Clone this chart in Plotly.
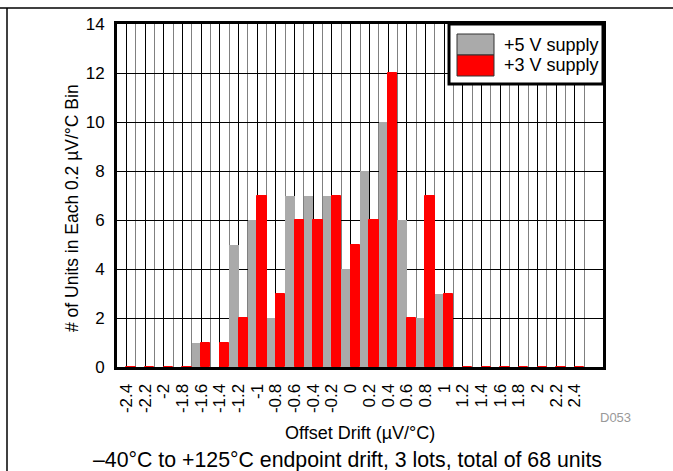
import plotly.graph_objects as go

# ---- data ----
bins = [-2.4, -2.2, -2.0, -1.8, -1.6, -1.4, -1.2, -1.0, -0.8, -0.6, -0.4, -0.2, 0.0,
        0.2, 0.4, 0.6, 0.8, 1.0, 1.2, 1.4, 1.6, 1.8, 2.0, 2.2, 2.4]
tick_labels = ["-2.4", "-2.2", "-2", "-1.8", "-1.6", "-1.4", "-1.2", "-1", "-0.8", "-0.6",
               "-0.4", "-0.2", "0", "0.2", "0.4", "0.6", "0.8", "1", "1.2", "1.4",
               "1.6", "1.8", "2", "2.2", "2.4"]
supply_5v = [0, 0, 0, 0, 1, 0, 5, 6, 2, 7, 7, 7, 4, 8, 10, 6, 2, 3, 0, 0, 0, 0, 0, 0, 0]
supply_3v = [0, 0, 0, 0, 1, 1, 2, 7, 3, 6, 6, 7, 5, 6, 12, 2, 7, 3, 0, 0, 0, 0, 0, 0, 0]
series_names = ["+5 V supply", "+3 V supply"]
y_ticks = [0, 2, 4, 6, 8, 10, 12, 14]

GRAY = "#AAAAAA"
RED = "#FF0000"
FONT = "Liberation Sans, Arial, sans-serif"

W, H = 673, 471
L, R, T, B = 117, 70, 24, 104
PW, PH = W - L - R, H - T - B


def px(x):
    return (x - L) / PW


def py(y):
    return (H - B - y) / PH


fig = go.Figure()
fig.add_trace(go.Bar(x=bins, y=supply_5v, name=series_names[0],
                     marker=dict(color=GRAY, line=dict(width=0)), showlegend=False))
fig.add_trace(go.Bar(x=bins, y=supply_3v, name=series_names[1],
                     marker=dict(color=RED, line=dict(color=RED, width=1)), showlegend=False))

fig.update_layout(
    width=W, height=H,
    margin=dict(l=L, r=R, t=T, b=B, pad=0),
    paper_bgcolor="white", plot_bgcolor="white",
    barmode="group", bargap=0, bargroupgap=0,
    font=dict(family=FONT, size=17, color="black"),
)

fig.update_xaxes(
    range=[-2.5, 2.7], tickmode="array", tickvals=bins, ticktext=tick_labels,
    tickangle=-90, tickfont=dict(size=17),
    showgrid=True, gridcolor="black", gridwidth=1,
    minor=dict(dtick=0.2, tick0=-2.5, showgrid=True, gridcolor="#808080", gridwidth=1),
    showline=True, linecolor="black", linewidth=3, mirror=True,
    ticks="", zeroline=False, ticklabelstandoff=7,
)
fig.update_yaxes(
    range=[0, 14], tickvals=y_ticks, tickfont=dict(size=17),
    showgrid=True, gridcolor="black", gridwidth=1,
    showline=True, linecolor="black", linewidth=3, mirror=True,
    ticks="", zeroline=False, ticklabelstandoff=6,
)

shapes = []
# outer frame lines (top and left)
shapes.append(dict(type="line", xref="paper", yref="paper", x0=px(0), x1=px(W), y0=py(8), y1=py(8),
                   line=dict(color="black", width=1.5), layer="above"))
shapes.append(dict(type="line", xref="paper", yref="paper", x0=px(7), x1=px(7), y0=py(8), y1=py(H),
                   line=dict(color="black", width=1.5), layer="above"))
# legend box
shapes.append(dict(type="rect", xref="paper", yref="paper", x0=px(449), x1=px(603), y0=py(24), y1=py(84),
                   fillcolor="white", line=dict(color="black", width=3), layer="above"))
shapes.append(dict(type="rect", xref="paper", yref="paper", x0=px(457), x1=px(494), y0=py(34), y1=py(55),
                   fillcolor=GRAY, line=dict(color="#333333", width=1), layer="above"))
shapes.append(dict(type="rect", xref="paper", yref="paper", x0=px(457), x1=px(494), y0=py(55), y1=py(76),
                   fillcolor=RED, line=dict(color="#333333", width=1), layer="above"))
fig.update_layout(shapes=shapes)

ann = []
ann.append(dict(text=series_names[0], x=px(502), y=py(45), xanchor="left", yanchor="middle",
                font=dict(size=18)))
ann.append(dict(text=series_names[1], x=px(502), y=py(65), xanchor="left", yanchor="middle",
                font=dict(size=18)))
ann.append(dict(text="# of Units in Each 0.2 µV/°C Bin", x=px(72), y=py(208), textangle=-90,
                xanchor="center", yanchor="middle", font=dict(size=17.5)))
ann.append(dict(text="Offset Drift (µV/°C)", x=px(360), y=py(433), xanchor="center", yanchor="middle",
                font=dict(size=18)))
ann.append(dict(text="–40°C to +125°C endpoint drift, 3 lots, total of 68 units", x=px(347), y=py(460),
                xanchor="center", yanchor="middle", font=dict(size=21.3)))
ann.append(dict(text="D053", x=px(615), y=py(417), xanchor="center", yanchor="middle",
                font=dict(size=13, color="#999999")))
for a in ann:
    a.update(xref="paper", yref="paper", showarrow=False)
fig.update_layout(annotations=ann)

fig.write_html("out.html", config={"displayModeBar": False},
               post_script="document.body.style.margin='0';")
